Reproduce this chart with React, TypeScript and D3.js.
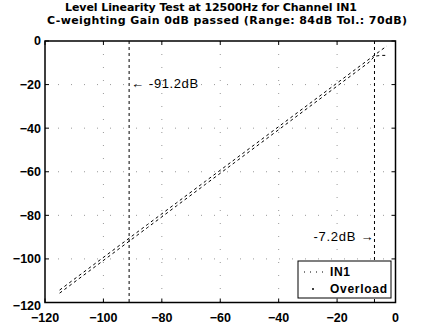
import React from "react";
import * as d3 from "d3";

const titleLines = [
  "Level Linearity Test at 12500Hz for Channel IN1",
  "C-weighting Gain 0dB passed (Range: 84dB Tol.: 70dB)",
];
const xTicks = [-120, -100, -80, -60, -40, -20, 0];
const yTicks = [0, -20, -40, -60, -80, -100, -120];
const inputLevels = [-115, -105, -95, -85, -75, -65, -55, -45, -35, -25, -15, -9, -7.2, -5, -3];
const upperTrace = [-114.3, -104.3, -94.3, -84.3, -74.3, -64.3, -54.3, -44.3, -34.3, -24.3, -14.3, -8.3, -6.5, -4.3, -2.3];
const lowerTrace = [-115.7, -105.7, -95.7, -85.7, -75.7, -65.7, -55.7, -45.7, -35.7, -25.7, -15.7, -9.7, -7.0, -6.6, -6.6];
const markerLevels = [-91.2, -7.2];
const markerLabels = ["← -91.2dB", "-7.2dB →"];
const markerLabelY = [-20, -90];
const legendLabels = ["IN1", "Overload"];

export default function App() {
  const W = 423, H = 336;
  const left = 45, right = 395.5, top = 41, bottom = 302.5;
  const x = d3.scaleLinear().domain([-120, 0]).range([left, right]);
  const y = d3.scaleLinear().domain([-120, 0]).range([bottom, top]);
  const line = d3.line<[number, number]>().x((d) => x(d[0])).y((d) => y(d[1]));
  const upper = line(inputLevels.map((v, i) => [v, upperTrace[i]] as [number, number]));
  const lower = line(inputLevels.map((v, i) => [v, lowerTrace[i]] as [number, number]));
  const font = "'Liberation Sans', Arial, Helvetica, sans-serif";
  const tk = 4;
  const titleX = [211, 227];
  const titleLen = [292, 360];
  const fmt = (v: number) => (v === 0 ? "0" : "−" + Math.abs(v));
  return (
    <svg width={W} height={H} style={{ position: "absolute", left: 0, top: 0, background: "#fff" }} fontFamily={font}>
      <rect x={0} y={0} width={W} height={H} fill="#fff" />
      {titleLines.map((t, i) => (
        <text key={t} x={titleX[i]} y={11 + i * 13} textAnchor="middle" fontSize={11} fontWeight="bold" fill="#000"
          fontFamily="'DejaVu Sans', sans-serif" textLength={titleLen[i]} lengthAdjust="spacing">
          {t}
        </text>
      ))}
      {/* grid */}
      {xTicks.slice(1, -1).map((v) => (
        <line key={"gx" + v} x1={x(v)} x2={x(v)} y1={top} y2={bottom} stroke="#999" strokeWidth={1} strokeDasharray="1,12" />
      ))}
      {yTicks.slice(1, -1).map((v) => (
        <line key={"gy" + v} x1={left} x2={right} y1={y(v)} y2={y(v)} stroke="#999" strokeWidth={1} strokeDasharray="1,12" />
      ))}
      {/* traces */}
      <path d={upper ?? ""} fill="none" stroke="#000" strokeWidth={1} strokeDasharray="3,3" />
      <path d={lower ?? ""} fill="none" stroke="#000" strokeWidth={1} strokeDasharray="3,3" />
      {/* marker lines */}
      {markerLevels.map((v) => (
        <line key={"m" + v} x1={x(v)} x2={x(v)} y1={top} y2={bottom} stroke="#000" strokeWidth={1} strokeDasharray="3,3" />
      ))}
      <text x={x(markerLevels[0]) + 2} y={y(markerLabelY[0])} dy="0.3em" fontSize={13} fill="#000"
        textLength={67} lengthAdjust="spacing">
        {markerLabels[0]}
      </text>
      <text x={x(markerLevels[1]) - 61} y={y(markerLabelY[1])} dy="0.3em" fontSize={13} fill="#000"
        textLength={60} lengthAdjust="spacing">
        {markerLabels[1]}
      </text>
      {/* axes box */}
      <rect x={left} y={top} width={right - left} height={bottom - top} fill="none" stroke="#000" strokeWidth={1.5} />
      {xTicks.map((v) => (
        <g key={"xt" + v}>
          <line x1={x(v)} x2={x(v)} y1={bottom} y2={bottom - tk} stroke="#000" />
          <line x1={x(v)} x2={x(v)} y1={top} y2={top + tk} stroke="#000" />
          <text x={x(v)} y={bottom + 19} textAnchor="middle" fontSize={12.5} fontWeight="bold" fill="#000">
            {fmt(v)}
          </text>
        </g>
      ))}
      {yTicks.map((v) => (
        <g key={"yt" + v}>
          <line x1={left} x2={left + tk} y1={y(v)} y2={y(v)} stroke="#000" />
          <line x1={right} x2={right - tk} y1={y(v)} y2={y(v)} stroke="#000" />
          <text x={left - 4} y={y(v) + (v === -120 ? 3 : 0)} dy="0.35em" textAnchor="end" fontSize={12.5} fontWeight="bold" fill="#000">
            {fmt(v)}
          </text>
        </g>
      ))}
      {/* legend */}
      <rect x={298} y={261} width={93} height={37} fill="#fff" stroke="#000" strokeWidth={1} />
      <line x1={304} x2={324} y1={272} y2={272} stroke="#000" strokeDasharray="1,5" />
      <circle cx={313} cy={289} r={1} fill="#000" />
      {legendLabels.map((t, i) => (
        <text key={t} x={330} y={272 + i * 17} dy="0.35em" fontSize={12} fontWeight="bold" fill="#000"
          textLength={i === 1 ? 57 : 20} lengthAdjust="spacing">
          {t}
        </text>
      ))}
    </svg>
  );
}
